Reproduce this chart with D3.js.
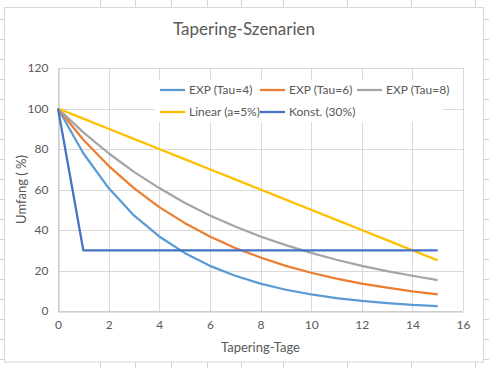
<!DOCTYPE html>
<html><head><meta charset="utf-8">
<script src="https://cdn.jsdelivr.net/npm/d3@7"></script>
<style>body{margin:0;background:#fff}svg{display:block}</style>
</head><body>
<script>
const days = [0,1,2,3,4,5,6,7,8,9,10,11,12,13,14,15];
const exp4 = [100,77.9,60.7,47.2,36.8,28.7,22.3,17.4,13.5,10.5,8.2,6.4,5.0,3.9,3.0,2.4];
const exp6 = [100,84.6,71.7,60.7,51.3,43.5,36.8,31.1,26.4,22.3,18.9,16.0,13.5,11.5,9.7,8.2];
const exp8 = [100,88.2,77.9,68.7,60.7,53.5,47.2,41.7,36.8,32.5,28.7,25.3,22.3,19.7,17.4,15.3];
const linear = [100,95,90,85,80,75,70,65,60,55,50,45,40,35,30,25];
const konst = [100,30,30,30,30,30,30,30,30,30,30,30,30,30,30,30];
const seriesNames = ["EXP (Tau=4)","EXP (Tau=6)","EXP (Tau=8)","Linear (a=5%)","Konst. (30%)"];
const xTicks = [0,2,4,6,8,10,12,14,16];
const yTicks = [0,20,40,60,80,100,120];
const title = "Tapering-Szenarien";
const xTitle = "Tapering-Tage";
const yTitle = "Umfang ( %)";

const colors = ["#5B9BD5","#ED7D31","#A5A5A5","#FFC000","#4472C4"];
const allSeries = [exp4,exp6,exp8,linear,konst];
const W=489,H=368;
const font = "Lato, 'Open Sans', sans-serif";
const txt = "#595959";

const svg = d3.select("body").append("svg").attr("width",W).attr("height",H);

// spreadsheet background grid (decor)
const sheet = svg.append("g").attr("stroke","#d4d4d4").attr("stroke-width",1);
[100,135,171,207,241,283,347,411,475].forEach(x=>{
  sheet.append("line").attr("x1",x+0.5).attr("x2",x+0.5).attr("y1",0).attr("y2",H);
});
d3.range(0,18).forEach(k=>{
  const y=19.5+20*k;
  sheet.append("line").attr("x1",0).attr("x2",W).attr("y1",y).attr("y2",y);
});
// chart area
svg.append("rect").attr("x",4.5).attr("y",7.5).attr("width",479).attr("height",354.5)
  .attr("fill","#fff").attr("stroke","#d9d9d9");

const m={l:58,r:463,t:68,b:311};
const x=d3.scaleLinear().domain([0,16]).range([m.l,m.r]);
const y=d3.scaleLinear().domain([0,120]).range([m.b,m.t]);

// gridlines
const grid=svg.append("g").attr("stroke","#d9d9d9").attr("stroke-width",1);
yTicks.forEach(v=>grid.append("line").attr("x1",m.l).attr("x2",m.r)
  .attr("y1",Math.round(y(v))+0.5).attr("y2",Math.round(y(v))+0.5));
xTicks.forEach(v=>grid.append("line").attr("y1",m.t).attr("y2",m.b)
  .attr("x1",Math.round(x(v))+0.5).attr("x2",Math.round(x(v))+0.5));

// axes
const xa=svg.append("g").attr("transform",`translate(0,${Math.round(y(0))+0.5})`)
  .call(d3.axisBottom(x).tickValues(xTicks).tickSize(0).tickPadding(9));
const ya=svg.append("g").attr("transform",`translate(${Math.round(x(0))+0.5},0)`)
  .call(d3.axisLeft(y).tickValues(yTicks).tickSize(0).tickPadding(10));
[xa,ya].forEach(a=>{
  a.select(".domain").attr("stroke","#bfbfbf");
  a.selectAll("text").attr("fill",txt).style("font-family",font).style("font-size","12px");
});

// lines
const line=d3.line().x((d,i)=>x(days[i])).y(d=>y(d));
allSeries.forEach((s,i)=>{
  svg.append("path").datum(s).attr("d",line).attr("fill","none")
    .attr("stroke",colors[i]).attr("stroke-width",2.25).attr("stroke-linejoin","round");
});

// legend
const lg=svg.append("g");
lg.append("rect").attr("x",155).attr("y",80).attr("width",288).attr("height",42).attr("fill","#fff");
const pos=[[160,90],[260,90],[357,90],[160,112],[260,112]];
seriesNames.forEach((n,i)=>{
  const [lx,ly]=pos[i];
  lg.append("line").attr("x1",lx).attr("x2",lx+25).attr("y1",ly).attr("y2",ly)
    .attr("stroke",colors[i]).attr("stroke-width",2.25);
  lg.append("text").attr("x",lx+29).attr("y",ly+4).text(n).attr("fill",txt)
    .style("font-family",font).style("font-size","12px");
});

// titles
svg.append("text").attr("x",244).attr("y",35).attr("text-anchor","middle").text(title)
  .attr("fill",txt).style("font-family",font).style("font-size","17px");
svg.append("text").attr("x",x(8)).attr("y",352).attr("text-anchor","middle").text(xTitle)
  .attr("fill",txt).style("font-family",font).style("font-size","13px");
svg.append("text").attr("transform",`translate(26,${y(60)}) rotate(-90)`).attr("text-anchor","middle")
  .text(yTitle).attr("fill",txt).style("font-family",font).style("font-size","13px");
</script>
</body></html>
